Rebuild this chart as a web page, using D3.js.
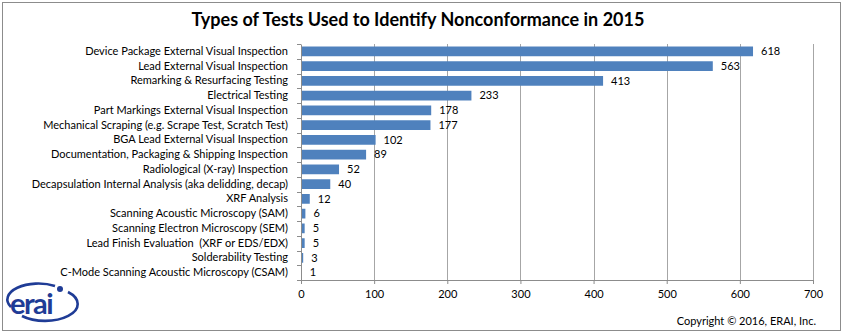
<!DOCTYPE html>
<html>
<head>
<meta charset="utf-8">
<script src="https://cdn.jsdelivr.net/npm/d3@7"></script>
<style>
  html, body { margin: 0; padding: 0; background: #fff; }
  svg { display: block; }
  text { font-family: Lato, "Open Sans", sans-serif; white-space: pre; }
</style>
</head>
<body>
<script>
const categories = [
  "Device Package External Visual Inspection",
  "Lead External Visual Inspection",
  "Remarking & Resurfacing Testing",
  "Electrical Testing",
  "Part Markings External Visual Inspection",
  "Mechanical Scraping (e.g. Scrape Test, Scratch Test)",
  "BGA Lead External Visual Inspection",
  "Documentation, Packaging & Shipping Inspection",
  "Radiological (X-ray) Inspection",
  "Decapsulation Internal Analysis (aka delidding, decap)",
  "XRF Analysis",
  "Scanning Acoustic Microscopy (SAM)",
  "Scanning Electron Microscopy (SEM)",
  "Lead Finish Evaluation  (XRF or EDS/EDX)",
  "Solderability Testing",
  "C-Mode Scanning Acoustic Microscopy (CSAM)"
];
const values = [618, 563, 413, 233, 178, 177, 102, 89, 52, 40, 12, 6, 5, 5, 3, 1];
const xTicks = [0, 100, 200, 300, 400, 500, 600, 700];
const title = "Types of Tests Used to Identify Nonconformance in 2015";
const copyright = "Copyright \u00A9 2016, ERAI, Inc.";
const logoText = "erai";

const W = 843, H = 333;
const svg = d3.select("body").append("svg").attr("width", W).attr("height", H);

// outer border
svg.append("rect").attr("x", 2.5).attr("y", 2.5).attr("width", 838).attr("height", 328)
  .attr("fill", "#fff").attr("stroke", "#8c8c8c").attr("stroke-width", 1);

const x = d3.scaleLinear().domain([0, 700]).range([301, 813]);
const y = d3.scaleBand().domain(categories).range([44, 280]).paddingInner(0.34).paddingOuter(0.17);
const band = d3.scaleBand().domain(categories).range([44, 280]);

// gridlines
svg.append("g").selectAll("line").data(xTicks.filter(d => d > 0)).join("line")
  .attr("x1", d => Math.round(x(d)) + 0.5).attr("x2", d => Math.round(x(d)) + 0.5)
  .attr("y1", 44).attr("y2", 280)
  .attr("stroke", "#a6a6a6").attr("stroke-width", 1);

// bars
svg.append("g").selectAll("rect").data(values).join("rect")
  .attr("x", x(0))
  .attr("y", (d, i) => y(categories[i]))
  .attr("width", d => x(d) - x(0))
  .attr("height", y.bandwidth())
  .attr("fill", "#4f81bd");

// value labels
svg.append("g").selectAll("text").data(values).join("text")
  .attr("x", d => x(d) + 8)
  .attr("y", (d, i) => band(categories[i]) + band.bandwidth() / 2)
  .attr("dy", "0.35em")
  .attr("font-size", 11)
  .attr("fill", "#000")
  .text(d => d);

// x axis
const xAxis = d3.axisBottom(x).tickValues(xTicks).tickSize(4).tickPadding(6);
const gx = svg.append("g").attr("transform", "translate(0,280)").call(xAxis);
gx.select(".domain").attr("stroke", "#8c8c8c");
gx.selectAll(".tick line").attr("stroke", "#8c8c8c");
gx.selectAll(".tick text").attr("font-family", "Lato, sans-serif").attr("font-size", 11).attr("fill", "#000");

// y axis
const yAxis = d3.axisLeft(band).tickSize(0).tickPadding(13);
const gy = svg.append("g").attr("transform", "translate(301,0)").call(yAxis);
gy.select(".domain").attr("stroke", "#8c8c8c");
gy.selectAll(".tick text").attr("font-family", "Lato, sans-serif").attr("font-size", 11).attr("fill", "#000")
  .style("white-space", "pre");
// category boundary ticks
const bounds = categories.map(c => band(c)).concat([280]);
svg.append("g").selectAll("line").data(bounds).join("line")
  .attr("x1", 297).attr("x2", 301)
  .attr("y1", d => Math.round(d) + 0.5).attr("y2", d => Math.round(d) + 0.5)
  .attr("stroke", "#8c8c8c");

// title
svg.append("text").attr("x", 418).attr("y", 20).attr("dy", "0.35em")
  .attr("text-anchor", "middle").attr("font-size", 18).attr("font-weight", "bold")
  .text(title);

// copyright
svg.append("text").attr("x", 816).attr("y", 321).attr("dy", "0.35em")
  .attr("text-anchor", "end").attr("font-size", 11).text(copyright);

// logo
const blue = "#1f3c96";
const logo = svg.append("g");
logo.append("path")
  .attr("d", "M 11 307 A 31 16 0 0 1 55 286")
  .attr("fill", "none").attr("stroke", blue).attr("stroke-width", 2.6);
logo.append("path")
  .attr("d", "M 68 292 A 31 16 0 0 1 22 316")
  .attr("fill", "none").attr("stroke", blue).attr("stroke-width", 2.6);
logo.append("circle").attr("cx", 60).attr("cy", 289).attr("r", 3).attr("fill", blue);
logo.append("text").attr("x", 10).attr("y", 314).attr("font-size", 29)
  .attr("font-family", "Lato, sans-serif").attr("font-weight", "bold")
  .attr("fill", blue).attr("letter-spacing", -1.5)
  .text(logoText);
</script>
</body>
</html>
